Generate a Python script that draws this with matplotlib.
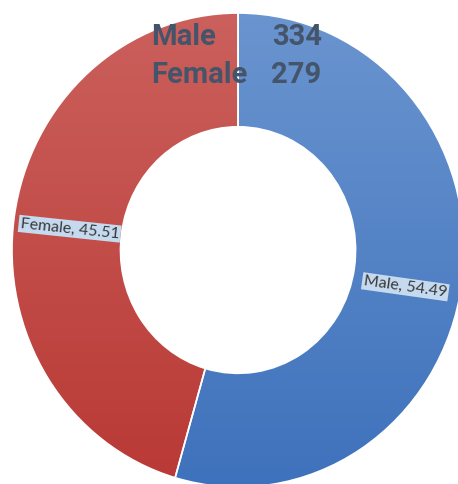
import numpy as np
import matplotlib.pyplot as plt
from matplotlib.colors import LinearSegmentedColormap

# gender split of respondents
genders = ["Male", "Female"]
counts = [334, 279]
percents = [54.49, 45.51]

top_colors = ["#6c96d0", "#cc625e"]
bottom_colors = ["#3c70bb", "#b83733"]

fig = plt.figure(figsize=(4.58, 4.84), dpi=100)
ax = fig.add_axes([0, 0, 1, 1])

wedges, _ = ax.pie(percents, startangle=90, counterclock=False, radius=1,
                   wedgeprops=dict(width=0.48, edgecolor="white", linewidth=1.2))

# vertical gradient fill clipped to each wedge
grad = np.linspace(0, 1, 256).reshape(-1, 1)
for w, c_top, c_bot in zip(wedges, top_colors, bottom_colors):
    cmap = LinearSegmentedColormap.from_list("g", [c_bot, c_top])
    im = ax.imshow(grad, cmap=cmap, extent=(-1.1, 1.1, -1.1, 1.1),
                   origin="lower", aspect="auto", zorder=1)
    im.set_clip_path(w)
    w.set_facecolor("none")
    w.set_zorder(2)

ax.set_aspect("auto")
ax.set_xlim(-1.053, 0.973)
ax.set_ylim(-0.987, 1.055)
ax.axis("off")

# slice labels
lab_kw = dict(fontsize=11.5, family="Lato", color="#3a3a3a",
              ha="center", va="center", zorder=4,
              bbox=dict(boxstyle="square,pad=0.1", fc="#c6daef", ec="none"))
ax.text(0.74, -0.155, f"{genders[0]}, {percents[0]}", rotation=-8, **lab_kw)
ax.text(-0.745, 0.09, f"{genders[1]}, {percents[1]}", rotation=-6, **lab_kw)

# count summary at the top
txt_kw = dict(fontsize=21, family="Roboto", fontweight="bold", color="#44546a",
              va="center", zorder=5)
for i, (g, n) in enumerate(zip(genders, counts)):
    y = 0.9 - i * 0.16
    ax.text(-0.385, y, g, ha="left", **txt_kw)
    ax.text(0.37, y, str(n), ha="right", **txt_kw)

fig.savefig("out.png", dpi=100)
